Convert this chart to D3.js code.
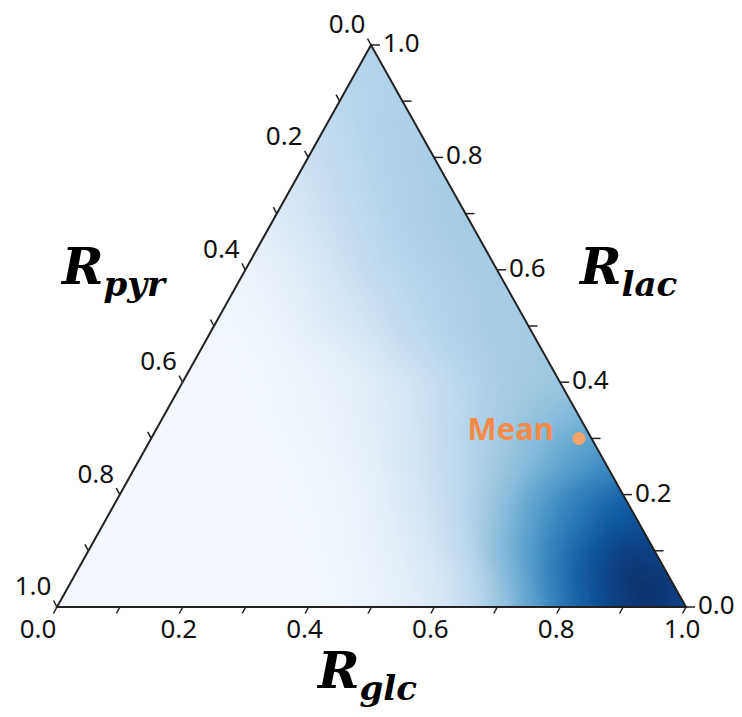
<!DOCTYPE html>
<html>
<head>
<meta charset="utf-8">
<script src="https://cdn.jsdelivr.net/npm/d3@7"></script>
<style>
  html, body { margin: 0; padding: 0; background: #fff; }
  svg { display: block; }
</style>
</head>
<body>
<svg id="chart" width="742" height="717"></svg>
<script>
// ---------------- DATA ----------------
// grid step for the density field (ternary coordinates)
const gridStep = 0.05;
// density rows: row i -> R_lac = i*step, entries j -> R_glc = j*step (R_pyr = 1 - glc - lac)
const densityRows = [
  [0.02,0.02,0.02,0.02,0.02,0.02,0.02,0.02,0.03,0.04,0.06,0.09,0.14,0.23,0.37,0.54,0.72,0.86,0.95,0.98,0.92],
  [0.02,0.02,0.02,0.02,0.02,0.02,0.02,0.02,0.03,0.05,0.08,0.12,0.18,0.31,0.47,0.66,0.82,0.93,1.00,0.96],
  [0.02,0.02,0.02,0.02,0.02,0.02,0.02,0.03,0.05,0.07,0.11,0.17,0.27,0.43,0.58,0.74,0.86,0.95,0.93],
  [0.02,0.02,0.02,0.02,0.02,0.02,0.03,0.04,0.06,0.10,0.15,0.23,0.35,0.48,0.62,0.74,0.84,0.88],
  [0.02,0.02,0.02,0.02,0.02,0.03,0.04,0.05,0.08,0.14,0.20,0.29,0.39,0.52,0.64,0.74,0.80],
  [0.02,0.02,0.02,0.02,0.03,0.03,0.05,0.07,0.12,0.18,0.25,0.33,0.40,0.49,0.58,0.65],
  [0.02,0.02,0.02,0.03,0.03,0.05,0.07,0.10,0.15,0.22,0.29,0.35,0.42,0.49,0.55],
  [0.02,0.02,0.03,0.03,0.05,0.06,0.09,0.13,0.19,0.26,0.32,0.36,0.40,0.44],
  [0.02,0.03,0.03,0.04,0.06,0.08,0.11,0.16,0.22,0.29,0.34,0.36,0.38],
  [0.03,0.03,0.04,0.06,0.08,0.12,0.18,0.24,0.30,0.33,0.35,0.36],
  [0.03,0.04,0.06,0.10,0.14,0.19,0.25,0.30,0.33,0.35,0.35],
  [0.04,0.06,0.09,0.14,0.19,0.24,0.29,0.32,0.34,0.35],
  [0.06,0.09,0.13,0.19,0.25,0.29,0.32,0.34,0.35],
  [0.09,0.13,0.18,0.24,0.29,0.32,0.34,0.35],
  [0.13,0.18,0.23,0.28,0.32,0.34,0.35],
  [0.17,0.22,0.27,0.31,0.33,0.35],
  [0.21,0.26,0.30,0.33,0.34],
  [0.25,0.29,0.32,0.33],
  [0.28,0.31,0.32],
  [0.30,0.31],
  [0.31]
];
// tick positions and labels (shared by the three axes)
const tickValues = [0,0.1,0.2,0.3,0.4,0.5,0.6,0.7,0.8,0.9,1.0];
const labelValues = [0,0.2,0.4,0.6,0.8,1.0];
const labelTexts = ["0.0","0.2","0.4","0.6","0.8","1.0"];
// axis titles
const axisNames = { glc: "glc", lac: "lac", pyr: "pyr" };
// mean composition
const meanPoint = { glc: 0.68, lac: 0.30, pyr: 0.02 };
const meanLabel = "Mean";

// ---------------- LAYOUT ----------------
const svg = d3.select("#chart");
const BL = [57, 607], BR = [686, 607], TOP = [371, 45];
const xGlc = d3.scaleLinear().domain([0, 1]).range([BL[0], BR[0]]);
const xLacShift = d3.scaleLinear().domain([0, 1]).range([0, TOP[0] - BL[0]]);
const yLac = d3.scaleLinear().domain([0, 1]).range([BL[1], TOP[1]]);
function proj(g, l) { return [xGlc(g) + xLacShift(l), yLac(l)]; }
const color = d3.scaleSequential(d3.interpolateBlues).domain([0, 1]);

const defs = svg.append("defs");
defs.append("clipPath").attr("id", "triClip")
  .append("path").attr("d", "M" + [BL, BR, TOP].map(p => p.join(",")).join("L") + "Z");
const filt = defs.append("filter").attr("id", "smooth")
  .attr("x", "-10%").attr("y", "-10%").attr("width", "120%").attr("height", "120%");
filt.append("feGaussianBlur").attr("stdDeviation", 12).attr("edgeMode", "duplicate");

// density cells (hexagonal cells around each lattice node)
const cells = [];
densityRows.forEach((row, i) => {
  row.forEach((v, j) => cells.push({ g: j * gridStep, l: i * gridStep, v }));
});
const h = gridStep;
const hexOff = [[h/3, h/3], [-h/3, 2*h/3], [-2*h/3, h/3], [-h/3, -h/3], [h/3, -2*h/3], [2*h/3, -h/3]];
function hexPath(d) {
  return "M" + hexOff.map(o => proj(d.g + o[0] * 1.02, d.l + o[1] * 1.02).join(",")).join("L") + "Z";
}
const heat = svg.append("g").attr("clip-path", "url(#triClip)");
heat.append("g").selectAll("path").data(cells).join("path")
  .attr("d", hexPath).attr("fill", d => color(d.v)).attr("stroke", d => color(d.v)).attr("stroke-width", 0.6);
heat.append("g").attr("filter", "url(#smooth)").selectAll("path").data(cells).join("path")
  .attr("d", hexPath).attr("fill", d => color(d.v)).attr("stroke", d => color(d.v)).attr("stroke-width", 0.6);

// triangle outline
svg.append("path")
  .attr("d", "M" + [BL, BR, TOP].map(p => p.join(",")).join("L") + "Z")
  .attr("fill", "none").attr("stroke", "#222").attr("stroke-width", 2).attr("stroke-linejoin", "miter");

// ticks
const tickG = svg.append("g").attr("stroke", "#222").attr("stroke-width", 1.5);
// bottom (R_glc): down-left
tickValues.forEach(t => {
  const p = proj(t, 0);
  tickG.append("line").attr("x1", p[0]).attr("y1", p[1]).attr("x2", p[0] - 3.5).attr("y2", p[1] + 6.5);
});
// right (R_lac): horizontal right
tickValues.forEach(t => {
  const p = proj(1 - t, t);
  tickG.append("line").attr("x1", p[0]).attr("y1", p[1]).attr("x2", p[0] + 9).attr("y2", p[1]);
});
// left (R_pyr): up-left, 0 at top
tickValues.forEach(t => {
  const p = proj(0, 1 - t);
  tickG.append("line").attr("x1", p[0]).attr("y1", p[1]).attr("x2", p[0] - 3.5).attr("y2", p[1] - 6.5);
});

// tick labels
const lab = svg.append("g").attr("font-family", "'Noto Sans', 'Open Sans', sans-serif")
  .attr("font-size", 26).attr("fill", "#111");
labelValues.forEach((t, k) => {
  const p = proj(t, 0);
  lab.append("text").attr("x", k === 0 ? p[0] - 19 : p[0] - 4).attr("y", p[1] + 21)
    .attr("text-anchor", "middle").attr("dominant-baseline", "central").text(labelTexts[k]);
});
labelValues.forEach((t, k) => {
  const p = proj(1 - t, t);
  lab.append("text").attr("x", p[0] + 12).attr("y", p[1] - 3)
    .attr("text-anchor", "start").attr("dominant-baseline", "central").text(labelTexts[k]);
});
labelValues.forEach((t, k) => {
  const p = proj(0, 1 - t);
  lab.append("text").attr("x", p[0] - 24).attr("y", p[1] - 22)
    .attr("text-anchor", "middle").attr("dominant-baseline", "central").text(labelTexts[k]);
});

// axis titles
function title(x, y, sub) {
  const t = svg.append("text").attr("x", x).attr("y", y)
    .attr("font-family", "'DejaVu Serif', 'Liberation Serif', serif")
    .attr("font-weight", "bold").attr("font-style", "italic").attr("fill", "#000");
  t.append("tspan").attr("font-size", 50).text("R");
  t.append("tspan").attr("font-size", 34).attr("dy", 12).text(sub);
}
title(62, 284, axisNames.pyr);
title(580, 284, axisNames.lac);
title(318, 688, axisNames.glc);

// mean point
const mp = proj(meanPoint.glc, meanPoint.lac);
svg.append("circle").attr("cx", mp[0]).attr("cy", mp[1]).attr("r", 6.5).attr("fill", "#f5a46c");
svg.append("text").attr("x", mp[0] - 25).attr("y", mp[1] - 10)
  .attr("text-anchor", "end").attr("dominant-baseline", "central")
  .attr("font-family", "'Noto Sans', 'Open Sans', sans-serif").attr("font-weight", "bold")
  .attr("font-size", 31).attr("fill", "#f48a48").text(meanLabel);
</script>
</body>
</html>
